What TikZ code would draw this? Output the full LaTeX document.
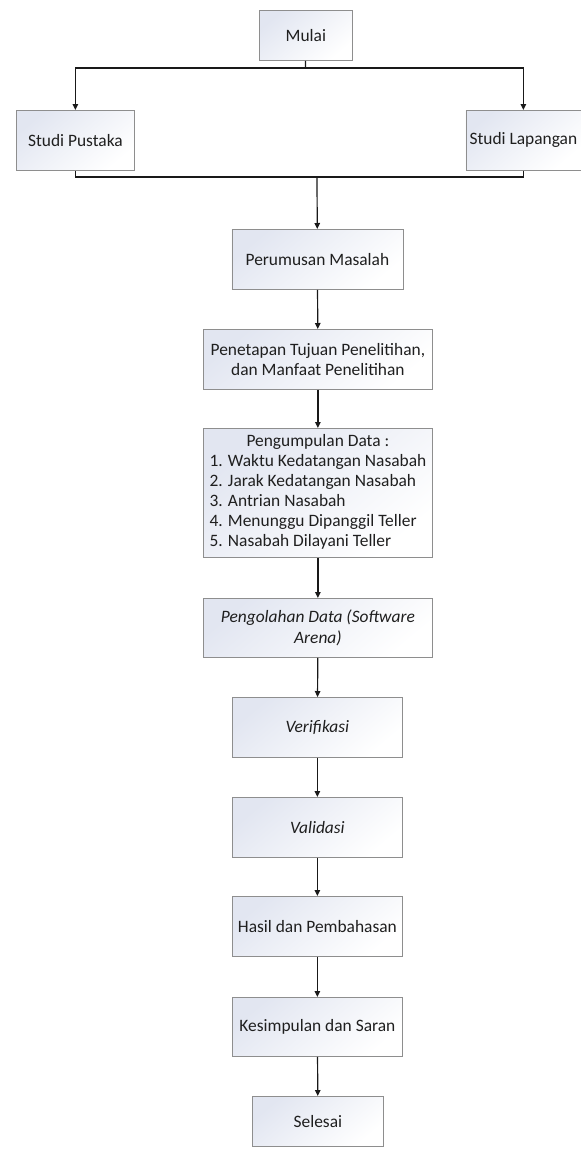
\documentclass[tikz,border=0pt]{standalone}
\usepackage{fontspec}
\setmainfont{Carlito}
\usetikzlibrary{arrows.meta}
\definecolor{boxtint}{HTML}{E2E6F1}
\definecolor{boxline}{HTML}{8E8E8E}
\begin{document}
\begin{tikzpicture}[x=1pt,y=-1pt,
  box/.style={draw=boxline, line width=0.8pt, anchor=north west, inner sep=0pt,
    align=center, font=\fontsize{17.4}{20}\selectfont, text=black!88,
    top color=boxtint, bottom color=white, shading angle=40},
  conn/.style={line width=1.2pt, black!90},
  arr/.style={conn, -{Triangle[length=6pt,width=5.5pt]}}]
\useasboundingbox (0,0) rectangle (581,1149);
\node[box, minimum width=93pt, minimum height=50pt] (mulai) at (259,10) {Mulai};
\node[box, minimum width=118pt, minimum height=60pt] (pustaka) at (16,110) {Studi Pustaka};
\node[box, minimum width=115pt, minimum height=60pt] (lapangan) at (465.5,110) {Studi Lapangan};
\node[box, minimum width=171pt, minimum height=60pt] (perumusan) at (231.5,229) {Perumusan Masalah};
\node[box, minimum width=229pt, minimum height=60pt] (penetapan) at (203,329) {Penetapan Tujuan Penelitihan,\\dan Manfaat Penelitihan};
\node[box, minimum width=229pt, minimum height=129pt] (pengumpulan) at (203,428) {%
  \begin{tabular}{@{}l@{}}\multicolumn{1}{@{}c@{}}{Pengumpulan Data :}\\
  1. Waktu Kedatangan Nasabah\\
  2. Jarak Kedatangan Nasabah\\
  3. Antrian Nasabah\\
  4. Menunggu Dipanggil Teller\\
  5. Nasabah Dilayani Teller\end{tabular}};
\node[box, minimum width=229pt, minimum height=59pt, font=\fontsize{17.4}{21.5}\selectfont\itshape] (pengolahan) at (203,598) {Pengolahan Data (Software\\Arena)};
\node[box, minimum width=170pt, minimum height=60pt, font=\fontsize{17.4}{20}\selectfont\itshape] (verifikasi) at (232,697) {Verifikasi};
\node[box, minimum width=170pt, minimum height=60pt, font=\fontsize{17.4}{20}\selectfont\itshape] (validasi) at (232,797) {Validasi};
\node[box, minimum width=170pt, minimum height=60pt] (hasil) at (232,896) {Hasil dan Pembahasan};
\node[box, minimum width=170pt, minimum height=59pt] (kesimpulan) at (232,997) {Kesimpulan dan Saran};
\node[box, minimum width=131pt, minimum height=50pt] (selesai) at (252,1096) {Selesai};
\coordinate (split) at (305.5,68);
\coordinate (join) at (317,177);
\draw[conn] (mulai) -- (split);
\draw[arr] (split) -| (pustaka);
\draw[arr] (split) -| (lapangan);
\draw[conn] (pustaka) |- (join);
\draw[conn] (lapangan) |- (join);
\draw[arr] (join) -- (perumusan);
\draw[arr] (perumusan) -- (penetapan);
\draw[arr] (penetapan) -- (pengumpulan);
\draw[arr] (pengumpulan) -- (pengolahan);
\draw[arr] (pengolahan) -- (verifikasi);
\draw[arr] (verifikasi) -- (validasi);
\draw[arr] (validasi) -- (hasil);
\draw[arr] (hasil) -- (kesimpulan);
\draw[arr] (kesimpulan) -- (selesai);
\end{tikzpicture}
\end{document}
